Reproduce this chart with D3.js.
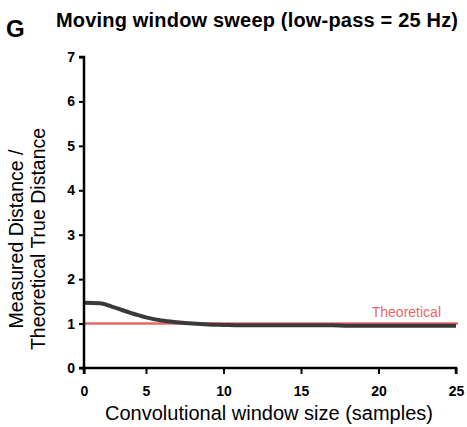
<!DOCTYPE html>
<html>
<head>
<meta charset="utf-8">
<script src="https://cdn.jsdelivr.net/npm/d3@7"></script>
<style>
  body { margin: 0; background: #fff; }
  text { font-family: "Liberation Sans", Arial, sans-serif; }
</style>
</head>
<body>
<svg id="chart" width="467" height="427"></svg>
<script>
// window size (samples) vs measured / theoretical distance
const windowSizes = [1, 2, 3, 4, 5, 6, 7, 8, 9, 10, 11, 12, 13, 14, 15, 16, 17, 18, 19, 20, 21, 22, 23, 24, 25];
const ratio = [1.47, 1.46, 1.36, 1.24, 1.14, 1.07, 1.03, 1.0, 0.98, 0.97, 0.96, 0.96, 0.96, 0.96, 0.96,
    0.96, 0.96, 0.95, 0.95, 0.95, 0.95, 0.95, 0.95, 0.95, 0.95];
const theoretical = 1;
const xTicks = [0, 5, 10, 15, 20, 25];
const yTicks = [0, 1, 2, 3, 4, 5, 6, 7];

const svg = d3.select("#chart");

const x = d3.scaleLinear()
    .domain([1, 25])
    .range([84, 456])
    .clamp(true);
const y = d3.scaleLinear()
    .domain([0, 7])
    .range([368, 57]);

// title + panel letter
svg.append("text")
    .attr("x", 6).attr("y", 37)
    .attr("font-size", 24).attr("font-weight", "bold")
    .text("G");
svg.append("text")
    .attr("x", 56).attr("y", 27)
    .attr("font-size", 20).attr("font-weight", "bold")
    .attr("textLength", 402)
    .text("Moving window sweep (low-pass = 25 Hz)");

// theoretical line
svg.append("line")
    .attr("x1", x(1)).attr("x2", x(25) + 2)
    .attr("y1", y(theoretical)).attr("y2", y(theoretical))
    .attr("stroke", "#e8686a")
    .attr("stroke-width", 2.5);
svg.append("text")
    .attr("x", 441).attr("y", 317)
    .attr("text-anchor", "end")
    .attr("font-size", 14)
    .attr("fill", "#e8686a")
    .text("Theoretical");

// measured
const line = d3.line()
    .x((d, i) => x(windowSizes[i]))
    .y(d => y(d))
    .curve(d3.curveMonotoneX);

svg.append("path")
    .datum(ratio)
    .attr("d", line)
    .attr("fill", "none")
    .attr("stroke", "#3a3a3a")
    .attr("stroke-width", 4);

// axes
const xAxis = svg.append("g")
    .attr("transform", "translate(0," + y(0) + ")")
    .call(d3.axisBottom(x).tickValues(xTicks).tickFormat(d3.format("d")).tickSize(6).tickPadding(12));
const yAxis = svg.append("g")
    .attr("transform", "translate(" + x(1) + ",0)")
    .call(d3.axisLeft(y).tickValues(yTicks).tickFormat(d3.format("d")).tickSize(5).tickPadding(4));

[xAxis, yAxis].forEach(function (g) {
    g.select(".domain").attr("stroke", "#000").attr("stroke-width", 2.5);
    g.selectAll(".tick line").attr("stroke", "#000").attr("stroke-width", 2);
    g.selectAll(".tick text")
        .attr("fill", "#000")
        .attr("font-size", 14)
        .attr("font-weight", "bold")
        .attr("font-family", "Liberation Sans, Arial, sans-serif");
});
xAxis.select(".domain").attr("d", "M" + x(1) + ",6V0H" + x(25) + "V6");
yAxis.select(".domain").attr("d", "M-5," + y(7) + "H0V" + y(0) + "H-5");

// axis titles
svg.append("text")
    .attr("x", 269).attr("y", 420)
    .attr("text-anchor", "middle")
    .attr("font-size", 20)
    .text("Convolutional window size (samples)");

const yt = svg.append("text")
    .attr("transform", "translate(0,239) rotate(-90)")
    .attr("text-anchor", "middle")
    .attr("font-size", 19.5);
yt.append("tspan").attr("x", 0).attr("y", 23).text("Measured Distance /");
yt.append("tspan").attr("x", 0).attr("y", 45).text("Theoretical True Distance");
</script>
</body>
</html>
